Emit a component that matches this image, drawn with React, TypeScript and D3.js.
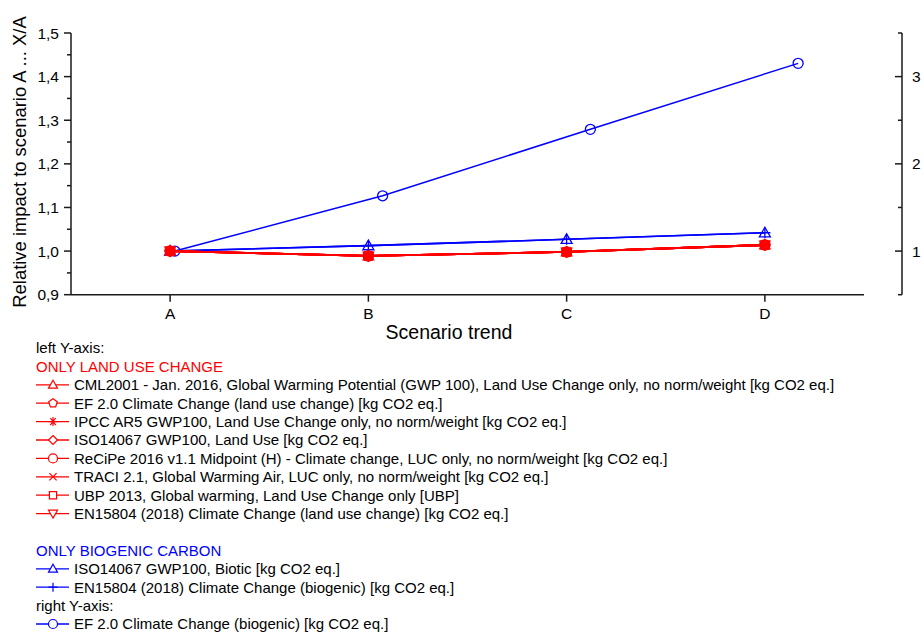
import React from "react";
import * as d3 from "d3";

const categories = ["A", "B", "C", "D"];
const leftTicks = [0.9, 1.0, 1.1, 1.2, 1.3, 1.4, 1.5];
const leftMinorTicks = [0.95, 1.05, 1.15, 1.25, 1.35, 1.45];
const rightTicks = [1, 2, 3];
const rightMinorTicks = [0.5, 1.5, 2.5, 3.5];

const landUseNames = [
  "CML2001 - Jan. 2016, Global Warming Potential (GWP 100), Land Use Change only, no norm/weight [kg CO2 eq.]",
  "EF 2.0 Climate Change (land use change) [kg CO2 eq.]",
  "IPCC AR5 GWP100, Land Use Change only, no norm/weight [kg CO2 eq.]",
  "ISO14067 GWP100, Land Use [kg CO2 eq.]",
  "ReCiPe 2016 v1.1 Midpoint (H) - Climate change, LUC only, no norm/weight [kg CO2 eq.]",
  "TRACI 2.1, Global Warming Air, LUC only, no norm/weight [kg CO2 eq.]",
  "UBP 2013, Global warming, Land Use Change only [UBP]",
  "EN15804 (2018) Climate Change (land use change) [kg CO2 eq.]",
];
const landUseMarkers = ["triangle", "pentagon", "asterisk", "diamond", "circle", "x", "square", "triangleDown"];
const landUseValues = [1.0, 0.989, 0.998, 1.014];

const biogenicNames = [
  "ISO14067 GWP100, Biotic [kg CO2 eq.]",
  "EN15804 (2018) Climate Change (biogenic) [kg CO2 eq.]",
];
const biogenicMarkers = ["triangle", "plus"];
const biogenicValues = [1.0, 1.0125, 1.027, 1.042];

const rightName = "EF 2.0 Climate Change (biogenic) [kg CO2 eq.]";
const rightValues = [1.0, 1.634, 2.396, 3.152];

const RED = "#ff0000";
const BLUE = "#0000ff";
const FONT = "'Liberation Sans', Arial, sans-serif";

function markerPath(type: string, r: number): string {
  const p = d3.path();
  if (type === "circle") {
    p.moveTo(r, 0);
    p.arc(0, 0, r, 0, Math.PI * 2);
  } else if (type === "triangle") {
    p.moveTo(0, -r);
    p.lineTo(r * 1.0, r * 0.75);
    p.lineTo(-r * 1.0, r * 0.75);
    p.closePath();
  } else if (type === "triangleDown") {
    p.moveTo(0, r);
    p.lineTo(r, -r * 0.75);
    p.lineTo(-r, -r * 0.75);
    p.closePath();
  } else if (type === "square") {
    p.rect(-r * 0.8, -r * 0.8, r * 1.6, r * 1.6);
  } else if (type === "diamond") {
    p.moveTo(0, -r);
    p.lineTo(r, 0);
    p.lineTo(0, r);
    p.lineTo(-r, 0);
    p.closePath();
  } else if (type === "pentagon") {
    for (let i = 0; i < 5; i++) {
      const a = -Math.PI / 2 + (i * 2 * Math.PI) / 5;
      const x = r * Math.cos(a);
      const y = r * Math.sin(a);
      if (i === 0) p.moveTo(x, y);
      else p.lineTo(x, y);
    }
    p.closePath();
  } else if (type === "x") {
    p.moveTo(-r * 0.8, -r * 0.8);
    p.lineTo(r * 0.8, r * 0.8);
    p.moveTo(r * 0.8, -r * 0.8);
    p.lineTo(-r * 0.8, r * 0.8);
  } else if (type === "plus") {
    p.moveTo(-r, 0);
    p.lineTo(r, 0);
    p.moveTo(0, -r);
    p.lineTo(0, r);
  } else if (type === "asterisk") {
    p.moveTo(-r, 0);
    p.lineTo(r, 0);
    p.moveTo(-r * 0.6, -r * 0.8);
    p.lineTo(r * 0.6, r * 0.8);
    p.moveTo(r * 0.6, -r * 0.8);
    p.lineTo(-r * 0.6, r * 0.8);
    p.moveTo(0, -r);
    p.lineTo(0, r);
  }
  return p.toString();
}

export default function App() {
  const W = 924;
  const H = 635;
  const left = 71;
  const right1 = 864;
  const right2 = 902;
  const top = 33;
  const bottom = 294.7;

  const xL = d3.scaleLinear().domain([0.5, 4.5]).range([left, right1]);
  const xR = d3.scaleLinear().domain([0.5, 4.5]).range([left, right2]);
  const yL = d3.scaleLinear().domain([0.9, 1.5]).range([bottom, top]);
  const yR = d3.scaleLinear().domain([0.5, 3.5]).range([bottom, top]);

  const lineL = d3
    .line<number>()
    .x((_, i) => xL(i + 1))
    .y((d) => yL(d));
  const lineR = d3
    .line<number>()
    .x((_, i) => xR(i + 1))
    .y((d) => yR(d));

  const fmt = (v: number) => v.toFixed(1).replace(".", ",");

  const legendY0 = 348;
  const rowH = 18.4;
  const legX = 36;
  const lineEnd = 69;
  const mX = 53;
  const textX = 74;
  const fs = 15;

  const legendRows: any[] = [];
  legendRows.push({ kind: "text", text: "left Y-axis:", color: "#000", row: 0 });
  legendRows.push({ kind: "text", text: "ONLY LAND USE CHANGE", color: RED, row: 1 });
  landUseNames.forEach((n, i) =>
    legendRows.push({ kind: "item", text: n, color: RED, marker: landUseMarkers[i], row: 2 + i })
  );
  legendRows.push({ kind: "text", text: "ONLY BIOGENIC CARBON", color: BLUE, row: 11 });
  biogenicNames.forEach((n, i) =>
    legendRows.push({ kind: "item", text: n, color: BLUE, marker: biogenicMarkers[i], row: 12 + i })
  );
  legendRows.push({ kind: "text", text: "right Y-axis:", color: "#000", row: 14 });
  legendRows.push({ kind: "item", text: rightName, color: BLUE, marker: "circle", row: 15 });

  const axisColor = "#1a1a1a";

  return (
    <svg
      width={W}
      height={H}
      style={{ position: "absolute", left: 0, top: 0, background: "#fff" }}
      fontFamily={FONT}
    >
      <rect x={0} y={0} width={W} height={H} fill="#fff" />

      {/* left axis */}
      <line x1={left} x2={left} y1={top} y2={bottom} stroke={axisColor} strokeWidth={1.5} />
      {leftTicks.map((t) => (
        <g key={"lt" + t}>
          <line x1={left - 7} x2={left} y1={yL(t)} y2={yL(t)} stroke={axisColor} strokeWidth={1.5} />
          <text x={left - 12} y={yL(t)} dy="0.36em" textAnchor="end" fontSize={15.5} fill="#000">
            {fmt(t)}
          </text>
        </g>
      ))}
      {leftMinorTicks.map((t) => (
        <line key={"lm" + t} x1={left - 4} x2={left} y1={yL(t)} y2={yL(t)} stroke={axisColor} strokeWidth={1.5} />
      ))}

      {/* bottom axis */}
      <line x1={left} x2={right1} y1={bottom} y2={bottom} stroke={axisColor} strokeWidth={1.5} />
      {categories.map((c, i) => (
        <g key={"xt" + c}>
          <line x1={xL(i + 1)} x2={xL(i + 1)} y1={bottom} y2={bottom + 7} stroke={axisColor} strokeWidth={1.5} />
          <text x={xL(i + 1)} y={bottom + 24} textAnchor="middle" fontSize={15.5} fill="#000">
            {c}
          </text>
        </g>
      ))}
      <text x={449} y={338.5} textAnchor="middle" fontSize={19.5} fill="#000">
        Scenario trend
      </text>
      <text
        transform={`translate(25.5, 162) rotate(-90)`}
        textAnchor="middle"
        fontSize={18.4}
        fill="#000"
      >
        Relative impact to scenario A ... X/A
      </text>

      {/* right axis */}
      <line x1={right2} x2={right2} y1={top} y2={bottom} stroke={axisColor} strokeWidth={1.5} />
      {rightTicks.map((t) => (
        <g key={"rt" + t}>
          <line x1={right2 - 7} x2={right2} y1={yR(t)} y2={yR(t)} stroke={axisColor} strokeWidth={1.5} />
          <text x={right2 + 10} y={yR(t)} dy="0.36em" textAnchor="start" fontSize={15.5} fill="#000">
            {t}
          </text>
        </g>
      ))}
      {rightMinorTicks.map((t) => (
        <line key={"rm" + t} x1={right2 - 4} x2={right2} y1={yR(t)} y2={yR(t)} stroke={axisColor} strokeWidth={1.5} />
      ))}

      {/* right-axis series */}
      <path d={lineR(rightValues) || ""} fill="none" stroke={BLUE} strokeWidth={1.5} />
      {rightValues.map((v, i) => (
        <path
          key={"rc" + i}
          d={markerPath("circle", 5)}
          transform={`translate(${xR(i + 1)},${yR(v)})`}
          fill="none"
          stroke={BLUE}
          strokeWidth={1.3}
        />
      ))}

      {/* biogenic series */}
      {biogenicMarkers.map((m, si) => (
        <g key={"bs" + si}>
          <path d={lineL(biogenicValues) || ""} fill="none" stroke={BLUE} strokeWidth={1.6} />
          {biogenicValues.map((v, i) => (
            <path
              key={"bm" + i}
              d={markerPath(m, 5.5)}
              transform={`translate(${xL(i + 1)},${yL(v)})`}
              fill="none"
              stroke={BLUE}
              strokeWidth={1.3}
            />
          ))}
        </g>
      ))}

      {/* land use series */}
      {landUseMarkers.map((m, si) => (
        <g key={"ls" + si}>
          <path d={lineL(landUseValues) || ""} fill="none" stroke={RED} strokeWidth={1.8} />
          {landUseValues.map((v, i) => (
            <path
              key={"lm" + i}
              d={markerPath(m, 5)}
              transform={`translate(${xL(i + 1)},${yL(v)})`}
              fill="none"
              stroke={RED}
              strokeWidth={1.5}
            />
          ))}
        </g>
      ))}

      {/* legend */}
      {legendRows.map((r, i) => {
        const cy = legendY0 + r.row * rowH;
        if (r.kind === "text") {
          return (
            <text key={"lg" + i} x={legX} y={cy} dy="0.36em" fontSize={fs} fill={r.color}>
              {r.text}
            </text>
          );
        }
        return (
          <g key={"lg" + i}>
            <line x1={legX} x2={lineEnd} y1={cy} y2={cy} stroke={r.color} strokeWidth={1.3} />
            <path
              d={markerPath(r.marker, 4.5)}
              transform={`translate(${mX},${cy})`}
              fill="#fff"
              stroke={r.color}
              strokeWidth={1.2}
            />
            <text x={textX} y={cy} dy="0.36em" fontSize={fs} fill="#000">
              {r.text}
            </text>
          </g>
        );
      })}
    </svg>
  );
}
